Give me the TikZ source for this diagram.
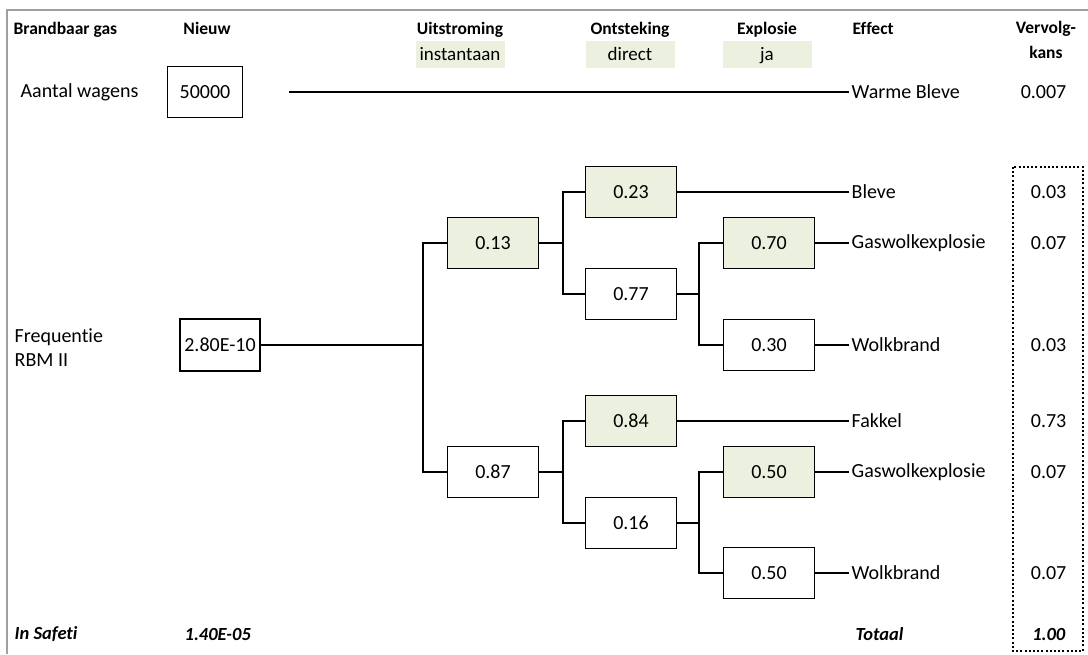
\documentclass[tikz,border=0pt]{standalone}
\usepackage{fontspec}
\setmainfont{Carlito}[Ligatures=NoCommon]
\usepackage{tikz}
\usetikzlibrary{positioning}
\definecolor{lightolive}{HTML}{EBF1DE}
\definecolor{framegray}{HTML}{A0A0A0}
\tikzstyle{block} = [draw, line width=1.5pt, fill=white, rectangle, 
    minimum height=51pt, minimum width=91pt, font=\fontsize{20}{23}\selectfont]
\tikzstyle{yes} = [block, fill=lightolive]
\tikzstyle{split} = [coordinate]
\tikzstyle{head} = [inner sep=0pt, align=center, font=\bfseries\fontsize{17.5}{25}\selectfont]
\tikzstyle{colhead} = [head, text height=13pt, text depth=4pt]
\tikzstyle{band} = [fill=lightolive, minimum width=89pt, minimum height=27pt, 
    text height=15pt, text depth=2pt, font=\fontsize{19}{22}\selectfont]
\tikzstyle{txt} = [anchor=west, inner sep=2pt, font=\fontsize{20}{24}\selectfont]
\tikzstyle{kans} = [anchor=east, inner sep=0pt, font=\fontsize{20}{23}\selectfont]
\tikzstyle{total} = [inner sep=0pt, font=\bfseries\itshape\fontsize{18.5}{22}\selectfont]

\begin{document}
\begin{tikzpicture}[x=1pt, y=-1pt, line width=1.3pt]
	\useasboundingbox (0,0) rectangle (1088,654);
% Sheet border
	\draw [framegray, line width=2pt] (7,654) -- (7,10) -- (1088,10);
% Column headers
	\node [colhead, anchor=west] (h0) at (13,30) {Brandbaar gas};
	\node [colhead] (h1) at (207,30) {Nieuw};
	\node [colhead] (h2) at (460,30) {Uitstroming};
	\node [colhead] (h3) at (630,30) {Ontsteking};
	\node [colhead] (h4) at (767,30) {Explosie};
	\node [colhead, anchor=west] (h5) at (852,30) {Effect};
	\node [head] (h6) at (1046,40) {Vervolg-\\kans};
	\node [band, below of=h2, node distance=24pt] (b2) {instantaan};
	\node [band, below of=h3, node distance=24pt] (b3) {direct};
	\node [band, below of=h4, node distance=24pt] (b4) {ja};
% Row labels
	\node [txt, anchor=west] (wagens) at (18,92) {Aantal wagens};
	\node [txt, align=left] (freq) at (12,348) {Frequentie\\RBM II};
	\node [block, minimum width=75pt] (n0) at (205,92) {50000};
	\node [block, minimum width=80pt, minimum height=52pt] (f0) at (220,345) {2.80E-10};
% Split points of the tree
	\node [split] (s0) at (423,345) {};
	\node [split] (s1) at (563,243) {};
	\node [split] (s2) at (699,294) {};
	\node [split] (s3) at (563,472) {};
	\node [split] (s4) at (699,523) {};
	\node [split] (wstart) at (289,92) {};
% Uitstroming
	\node [yes] (t13) at (493,243) {0.13};
	\node [block] (t87) at (493,472) {0.87};
% Ontsteking
	\node [yes] (t23) at (631,192) {0.23};
	\node [block] (t77) at (631,294) {0.77};
	\node [yes] (t84) at (631,421) {0.84};
	\node [block] (t16) at (631,523) {0.16};
% Explosie
	\node [yes] (t70) at (769,243) {0.70};
	\node [block] (t30) at (769,345) {0.30};
	\node [yes] (t50a) at (769,472) {0.50};
	\node [block] (t50b) at (769,573) {0.50};
% Effects and follow-up chances
	\node [txt] (e0) at (849,92) {Warme Bleve};
	\node [txt] (e1) at (849,192) {Bleve};
	\node [txt] (e2) at (849,243) {Gaswolkexplosie};
	\node [txt] (e3) at (849,345) {Wolkbrand};
	\node [txt] (e4) at (849,421) {Fakkel};
	\node [txt] (e5) at (849,472) {Gaswolkexplosie};
	\node [txt] (e6) at (849,573) {Wolkbrand};
	\node [kans] (k0) at (1067,92) {0.007};
	\node [kans] (k1) at (1067,192) {0.03};
	\node [kans] (k2) at (1067,243) {0.07};
	\node [kans] (k3) at (1067,345) {0.03};
	\node [kans] (k4) at (1067,421) {0.73};
	\node [kans] (k5) at (1067,472) {0.07};
	\node [kans] (k6) at (1067,573) {0.07};
	\draw [dash pattern=on 2pt off 2.2pt, line width=1.5pt] (1013,167) rectangle (1083,651);
% Bottom row
	\node [total, anchor=west] (safeti) at (14,634) {In Safeti};
	\node [total, anchor=west] (safetival) at (184,634) {1.40E-05};
	\node [total, anchor=west] (totaal) at (855,634) {Totaal};
	\node [total, anchor=east] (som) at (1066,634) {1.00};
% Connectors
	\draw (wstart) -- (e0);
	\draw (f0) -- (s0);
	\draw (s0) |- (t13.west);
	\draw (s0) |- (t87.west);
	%% upper branch
	\draw (t13) -- (s1);
	\draw (s1) |- (t23.west);
	\draw (s1) |- (t77.west);
	\draw (t77) -- (s2);
	\draw (s2) |- (t70.west);
	\draw (s2) |- (t30.west);
	%% lower branch
	\draw (t87) -- (s3);
	\draw (s3) |- (t84.west);
	\draw (s3) |- (t16.west);
	\draw (t16) -- (s4);
	\draw (s4) |- (t50a.west);
	\draw (s4) |- (t50b.west);
	%% to the effects
	\draw (t23) -- (e1);
	\draw (t70) -- (e2);
	\draw (t30) -- (e3);
	\draw (t84) -- (e4);
	\draw (t50a) -- (e5);
	\draw (t50b) -- (e6);
\end{tikzpicture}
\end{document}
